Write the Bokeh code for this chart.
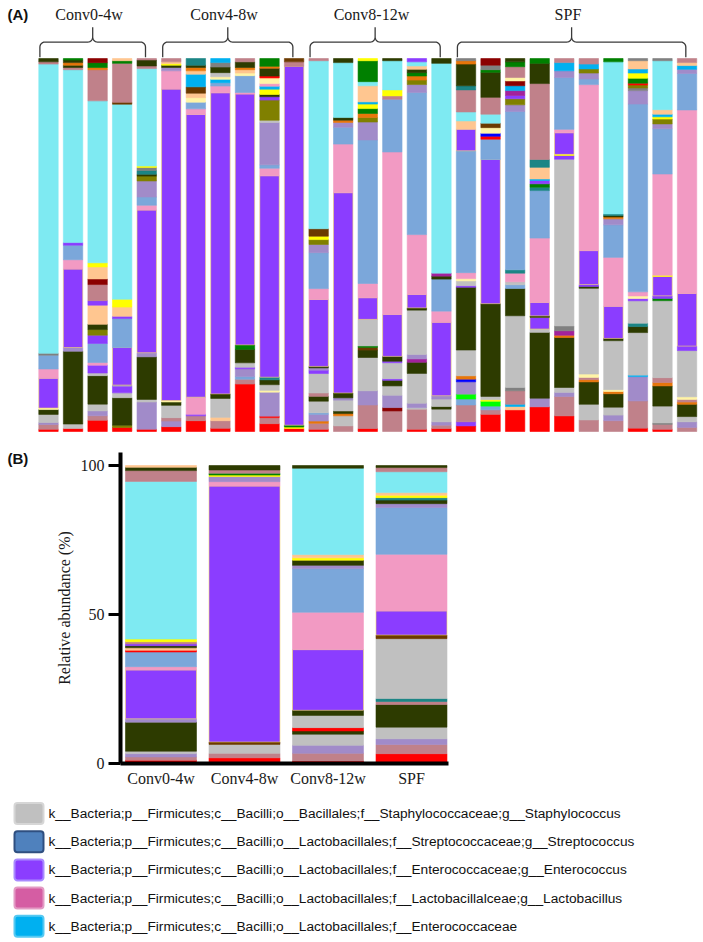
import numpy as np
from bokeh.plotting import figure
from bokeh.models import ColumnDataSource, Range1d, FixedTicker
from bokeh.embed import file_html
from bokeh.resources import INLINE
from bokeh.core.properties import value

# ---------------- colours of taxa ----------------
COLORS = dict(
    red="#FF0000", rosy="#C0818A", lav="#A18BC9", gray="#C0C0C0", dkgreen="#2D3B00",
    purple="#8B3DFF", pink="#F29AC3", steel="#7BA7DA", cyan="#7EEAF2", peach="#FFC690",
    yellow="#FFFF00", green="#008000", olive="#808000", orange="#E8760A", brown="#6B3A00",
    sky="#00B0F0", teal="#1B8585", darkred="#8B0000", lyellow="#FFF4A6", blue="#0000FF",
    lime="#00FF00", magenta="#A3229C", dgray="#808080",
)

# ---------------- panel A: per-sample relative abundance (%), bottom -> top ----------------
GROUPS = ["Conv0-4w", "Conv4-8w", "Conv8-12w", "SPF"]
GROUP_SIZES = [5, 6, 6, 10]

s01 = [("red",0.6),("rosy",1.3),("lav",0.5),("gray",2.2),("dkgreen",1.3),("lyellow",0.4),("purple",8.0),("pink",2.5),("steel",3.7),("dgray",0.5),("cyan",77.7),("rosy",0.6),("dkgreen",0.9)]
s02 = [("red",0.8),("gray",1.2),("dkgreen",19.5),("lav",1.0),("purple",21.0),("pink",2.5),("steel",3.9),("purple",0.7),("cyan",46.3),("rosy",0.6),("dkgreen",0.6),("orange",0.7),("dkgreen",0.7),("green",0.4)]
s03 = [("red",3.0),("rosy",1.2),("lav",1.3),("gray",1.8),("dkgreen",7.6),("gray",0.7),("purple",2.1),("pink",0.7),("steel",5.1),("purple",2.2),("olive",1.5),("dkgreen",1.4),("peach",5.1),("purple",1.2),("rosy",4.3),("darkred",1.5),("peach",3.2),("yellow",1.1),("cyan",43.2),("rosy",8.3),("orange",0.6),("green",1.3),("darkred",1.1)]
s04 = [("red",1.1),("olive",0.6),("dkgreen",7.4),("gray",1.3),("purple",1.8),("lav",0.3),("purple",10.1),("steel",7.8),("purple",0.6),("peach",2.5),("yellow",2.1),("cyan",52.5),("brown",0.5),("rosy",10.5),("green",0.7),("peach",0.6)]
s05 = [("red",0.6),("lav",7.3),("gray",0.7),("dkgreen",11.4),("lav",1.1),("purple",38.2),("pink",1.3),("steel",2.2),("lav",4.3),("olive",1.3),("dkgreen",0.5),("teal",1.0),("dgray",0.8),("yellow",0.4),("cyan",26.1),("rosy",0.7),("dkgreen",1.6),("rosy",0.4)]
s06 = [("red",1.3),("lav",1.5),("rosy",0.9),("gray",3.3),("dkgreen",0.9),("lyellow",0.4),("purple",83.4),("pink",4.9),("lav",0.9),("dkgreen",0.6),("yellow",0.4),("peach",0.5),("rosy",0.9)]
s07 = [("red",2.9),("rosy",1.3),("purple",0.4),("pink",4.6),("purple",75.8),("pink",1.5),("steel",1.8),("lyellow",1.2),("peach",1.2),("brown",1.7),("sky",3.4),("peach",0.9),("orange",0.9),("dkgreen",0.6),("teal",1.8)]
s08 = [("red",0.9),("rosy",2.0),("peach",0.9),("gray",5.1),("dkgreen",1.2),("purple",80.9),("pink",1.8),("steel",0.9),("sky",0.9),("lyellow",0.7),("gray",1.1),("dkgreen",1.5),("dgray",1.2),("sky",1.1)]
s09 = [("red",12.7),("rosy",1.3),("steel",0.7),("lav",2.1),("purple",0.4),("gray",1.2),("dkgreen",3.6),("green",1.2),("purple",67.2),("pink",0.4),("steel",4.5),("lyellow",0.7),("peach",0.9),("orange",0.6),("dkgreen",1.5),("rosy",0.9)]
s10 = [("red",2.1),("rosy",1.6),("red",0.4),("lav",6.4),("lyellow",0.5),("gray",1.5),("dkgreen",1.3),("teal",0.7),("purple",53.8),("pink",2.0),("steel",0.9),("lav",11.3),("gray",0.6),("olive",5.4),("purple",0.9),("dkgreen",0.6),("yellow",1.4),("sky",0.8),("pink",0.7),("lyellow",1.5),("red",0.5),("dkgreen",2.1),("orange",0.5),("green",2.1)]
s11 = [("red",0.8),("yellow",0.4),("green",0.5),("purple",96.2),("rosy",1.2),("brown",0.9)]
s12 = [("red",0.6),("rosy",1.6),("orange",0.6),("lav",1.8),("steel",0.4),("gray",3.1),("dkgreen",1.3),("rosy",0.9),("gray",5.2),("purple",0.9),("lav",0.6),("dkgreen",0.4),("purple",17.9),("pink",2.9),("steel",9.6),("lav",2.2),("olive",1.3),("yellow",0.9),("brown",2.0),("cyan",44.9),("rosy",0.6)]
s13 = [("rosy",1.5),("gray",2.7),("orange",0.6),("dkgreen",0.7),("gray",2.9),("lav",0.6),("dkgreen",1.3),("purple",53.6),("pink",13.0),("steel",4.5),("lav",1.3),("orange",0.6),("dkgreen",0.7),("cyan",14.7),("dkgreen",1.1)]
s14 = [("red",0.8),("rosy",6.3),("lav",3.8),("gray",8.9),("dkgreen",2.0),("brown",0.7),("green",0.4),("gray",7.1),("purple",5.8),("pink",3.8),("steel",38.4),("lav",4.8),("olive",1.2),("orange",1.1),("green",1.3),("yellow",1.2),("sky",0.6),("peach",4.3),("cyan",1.1),("green",5.6),("yellow",0.6)]
s15 = [("rosy",5.5),("darkred",0.9),("lav",3.3),("gray",2.5),("dkgreen",1.5),("purple",0.4),("gray",4.3),("purple",0.4),("dkgreen",1.3),("purple",11.2),("pink",43.5),("steel",14.1),("rosy",0.9),("yellow",1.6),("cyan",7.8),("dkgreen",0.6)]
s16 = [("red",0.6),("rosy",5.4),("gray",0.4),("lav",1.2),("gray",8.0),("dkgreen",3.0),("magenta",0.9),("lav",1.2),("gray",11.9),("dkgreen",0.6),("purple",3.6),("pink",16.1),("steel",38.2),("lav",2.1),("olive",1.2),("orange",1.1),("green",0.9),("dkgreen",0.9),("peach",0.9),("cyan",1.1),("purple",0.9)]
s17 = [("red",0.8),("rosy",0.9),("lav",0.9),("gray",3.4),("dkgreen",0.7),("gray",2.0),("lav",0.9),("purple",19.7),("pink",3.0),("steel",8.6),("dkgreen",0.8),("magenta",0.8),("cyan",56.3),("dkgreen",1.3)]
s18 = [("red",1.5),("purple",1.1),("rosy",4.5),("steel",1.6),("lime",1.3),("lav",3.3),("blue",0.7),("orange",0.9),("gray",6.9),("dkgreen",16.8),("purple",0.4),("gray",1.3),("lyellow",0.6),("pink",1.6),("steel",32.6),("purple",5.8),("peach",2.2),("cyan",2.4),("rosy",5.9),("teal",1.1),("dkgreen",5.8),("orange",0.9),("dgray",0.6)]
s19 = [("red",4.6),("rosy",1.2),("steel",1.0),("lime",1.3),("yellow",0.4),("gray",0.9),("dkgreen",24.8),("purple",38.6),("steel",5.4),("red",0.8),("blue",0.8),("lyellow",1.5),("brown",1.2),("cyan",2.4),("rosy",4.5),("dkgreen",6.7),("green",0.7),("dgray",1.2),("darkred",1.8)]
s20 = [("red",5.8),("peach",0.9),("sky",0.6),("rosy",3.6),("dgray",0.9),("gray",19.2),("dkgreen",7.3),("steel",1.0),("gray",0.8),("pink",2.3),("teal",0.9),("steel",42.4),("lav",1.8),("olive",1.6),("purple",0.9),("magenta",1.3),("sky",1.3),("darkred",1.3),("lyellow",0.9),("rosy",2.9),("green",1.3),("dkgreen",0.9)]
s21 = [("red",6.6),("lav",2.3),("dkgreen",17.6),("gray",0.9),("purple",3.1),("dkgreen",0.4),("purple",3.6),("pink",17.2),("steel",12.7),("teal",0.9),("green",0.9),("purple",0.9),("sky",0.4),("peach",3.1),("teal",2.1),("rosy",20.3),("dkgreen",5.4),("green",1.3)]
s22 = [("red",4.2),("rosy",5.2),("lav",1.1),("gray",1.3),("dkgreen",13.4),("orange",0.6),("magenta",1.2),("dgray",1.3),("gray",44.7),("purple",1.0),("yellow",0.3),("purple",5.8),("pink",0.9),("steel",13.9),("lav",1.8),("sky",2.2),("rosy",1.1)]
s23 = [("rosy",3.1),("gray",4.2),("dkgreen",6.0),("orange",0.6),("rosy",0.6),("lyellow",0.9),("gray",23.0),("dkgreen",0.5),("purple",0.5),("purple",9.1),("pink",44.5),("steel",1.5),("lav",1.6),("olive",1.1),("sky",1.3),("rosy",1.5)]
s24 = [("rosy",2.9),("lav",1.5),("gray",2.1),("dkgreen",3.6),("orange",0.6),("lyellow",0.5),("gray",13.1),("dkgreen",0.6),("purple",8.6),("pink",13.1),("steel",8.7),("lav",1.6),("orange",0.5),("dkgreen",0.4),("teal",0.4),("cyan",40.7),("green",0.9)]
s25 = [("red",0.9),("rosy",7.3),("lav",6.5),("sky",0.4),("gray",11.4),("dkgreen",1.6),("teal",0.9),("gray",6.0),("purple",0.6),("lyellow",0.7),("pink",1.1),("steel",50.3),("lav",3.6),("dgray",0.7),("olive",0.8),("red",0.5),("green",1.3),("yellow",1.4),("sky",1.1),("peach",2.2),("dgray",0.6)]
s26 = [("red",0.6),("rosy",1.3),("dgray",0.4),("gray",4.5),("dkgreen",5.4),("orange",0.9),("rosy",1.3),("gray",20.6),("green",0.6),("purple",0.7),("purple",5.2),("yellow",0.3),("pink",27.1),("steel",12.1),("lav",1.3),("olive",1.3),("yellow",0.6),("sky",0.7),("peach",1.2),("cyan",13.1),("dgray",0.6)]
s27 = [("rosy",1.1),("lav",1.5),("gray",1.4),("dkgreen",3.3),("orange",0.6),("rosy",0.7),("lyellow",0.7),("gray",12.4),("purple",1.2),("purple",14.1),("pink",49.2),("steel",9.8),("lav",1.1),("sky",1.0),("peach",0.8),("rosy",1.1)]

SAMPLES = [s01, s02, s03, s04, s05, s06, s07, s08, s09, s10, s11, s12, s13, s14,
           s15, s16, s17, s18, s19, s20, s21, s22, s23, s24, s25, s26, s27]

# ---------------- panel B: group means (%), bottom -> top ----------------
g_conv04 = [("red",1.1),("rosy",1.1),("lav",1.1),("gray",0.8),("dkgreen",9.7),("lav",1.1),("purple",16.3),("pink",1.1),("steel",4.9),("red",0.6),("peach",0.8),("dkgreen",0.7),("purple",0.6),("rosy",0.7),("yellow",0.9),("cyan",52.6),("rosy",3.6),("dkgreen",1.1),("peach",0.6)]
g_conv48 = [("red",1.9),("rosy",1.5),("gray",3.0),("brown",0.8),("purple",85.7),("pink",1.5),("lav",1.7),("yellow",0.5),("green",0.6),("rosy",1.1),("dkgreen",1.5)]
g_conv812 = [("red",0.8),("rosy",2.6),("lav",2.7),("gray",3.7),("dkgreen",1.1),("red",1.1),("gray",4.1),("dkgreen",1.7),("purple",20.3),("pink",12.5),("steel",14.6),("lav",1.1),("dkgreen",1.7),("yellow",0.8),("peach",1.1),("cyan",28.9),("dkgreen",0.9)]
g_spf = [("red",3.3),("rosy",3.1),("lav",1.9),("gray",3.9),("dkgreen",7.6),("rosy",1.0),("teal",1.0),("gray",20.1),("brown",1.2),("purple",8.1),("pink",19.0),("steel",15.7),("lav",1.3),("dkgreen",1.2),("teal",0.8),("yellow",0.8),("peach",0.9),("cyan",7.0),("rosy",1.4),("dkgreen",0.7)]
GROUP_BARS = [g_conv04, g_conv48, g_conv812, g_spf]

Y_TICKS = [0, 50, 100]
Y_LABEL = "Relative abundance (%)"

# ---------------- legend ----------------
LEGEND_LABELS = [
    "k__Bacteria;p__Firmicutes;c__Bacilli;o__Bacillales;f__Staphylococcaceae;g__Staphylococcus",
    "k__Bacteria;p__Firmicutes;c__Bacilli;o__Lactobacillales;f__Streptococcaceae;g__Streptococcus",
    "k__Bacteria;p__Firmicutes;c__Bacilli;o__Lactobacillales;f__Enterococcaceae;g__Enterococcus",
    "k__Bacteria;p__Firmicutes;c__Bacilli;o__Lactobacillales;f__Lactobacillalceae;g__Lactobacillus",
    "k__Bacteria;p__Firmicutes;c__Bacilli;o__Lactobacillales;f__Enterococcaceae",
]
LEGEND_FILLS = ["#C0C0C0", "#4F81BD", "#8B3DFF", "#D55DA3", "#00B0F0"]
LEGEND_EDGES = ["#D6D6D6", "#2F4F80", "#A98BFF", "#E39BC4", "#55C9F2"]

SERIF = "Liberation Serif"
SANS = "Liberation Sans"


def stacked(seglists):
    d = dict(x=[], bottom=[], top=[], fill=[], line=[])
    for xc, segs in enumerate(seglists):
        total = sum(v for _, v in segs)
        acc = 0.0
        for key, v in segs:
            h = v / total * 100.0
            d["x"].append(xc)
            d["bottom"].append(acc)
            d["top"].append(acc + h)
            d["fill"].append(COLORS[key])
            d["line"].append("#F2D36B" if (key == "purple" and h >= 3) else COLORS[key])
            acc += h
    return ColumnDataSource(d)


W = 703

# =============== Panel A ===============
pA = figure(width=W, height=440, x_range=Range1d(-1.954, 26.67), y_range=Range1d(-2.41, 115.55),
            x_axis_location=None, y_axis_location=None, min_border=0,
            output_backend="svg", toolbar_location=None)
pA.grid.grid_line_color = None
pA.outline_line_color = None
pA.vbar(x="x", bottom="bottom", top="top", width=0.79, fill_color="fill",
        line_color="line", line_width=0.6, source=stacked(SAMPLES))

# braces and group labels
xs, ys, lx = [], [], []
start = 0
rx, ry = 0.2, 1.34
y_tip, y_h, y_peak = 100.35, 104.4, 108.4
for n in GROUP_SIZES:
    x0 = start - 0.35
    x1 = start + n - 1 - 0.05
    xm = (x0 + x1) / 2
    px, py = [x0], [y_tip]
    t = np.linspace(np.pi, np.pi / 2, 8)
    px += list(x0 + rx + rx * np.cos(t)); py += list(y_h - ry + ry * np.sin(t))
    t = np.linspace(1.5 * np.pi, 2 * np.pi, 8)
    px += list(xm - rx + rx * np.cos(t)); py += list(y_h + ry + ry * np.sin(t))
    px += [xm, xm]; py += [y_peak, y_h + ry]
    t = np.linspace(np.pi, 1.5 * np.pi, 8)
    px += list(xm + rx + rx * np.cos(t)); py += list(y_h + ry + ry * np.sin(t))
    t = np.linspace(np.pi / 2, 0, 8)
    px += list(x1 - rx + rx * np.cos(t)); py += list(y_h - ry + ry * np.sin(t))
    px += [x1]; py += [y_tip]
    xs.append(px); ys.append(py); lx.append(xm - 0.15)
    start += n
pA.multi_line(xs=xs, ys=ys, line_color="#3A3A3A", line_width=1.3)
pA.text(x=lx, y=[111.9] * len(lx), text=GROUPS, text_font=value(SERIF), text_font_size="16px",
        text_align="center", text_baseline="middle", text_color="#1A1A1A")
pA.text(x=[-1.67], y=[111.8], text=["(A)"], text_font=value(SANS), text_font_style="bold",
        text_font_size="15px", text_align="left", text_baseline="middle", text_color="#111111")

# =============== Panel B ===============
# frame covers the whole figure; axes are pinned inside it with fixed_location
pB = figure(width=W, height=350, x_range=Range1d(-1.922, 6.497), y_range=Range1d(-9.06, 108.39),
            min_border=0, output_backend="svg", toolbar_location=None)
pB.grid.grid_line_color = None
pB.outline_line_color = None
pB.vbar(x="x", bottom="bottom", top="top", width=0.85, fill_color="fill",
        line_color="line", line_width=0.6, source=stacked(GROUP_BARS))

X_LEFT, X_RIGHT, Y_TOP = -0.485, 3.443, 104.36
pB.xaxis.fixed_location = 0
pB.xaxis.bounds = (X_LEFT, X_RIGHT)
pB.yaxis.fixed_location = X_LEFT
pB.yaxis.bounds = (0, Y_TOP)
pB.xaxis.ticker = FixedTicker(ticks=list(range(len(GROUPS))))
pB.xaxis.major_label_overrides = {i: g for i, g in enumerate(GROUPS)}
pB.yaxis.ticker = FixedTicker(ticks=Y_TICKS)
for ax in (pB.xaxis[0], pB.yaxis[0]):
    ax.axis_line_width = 4
    ax.axis_line_color = "black"
    ax.minor_tick_line_color = None
    ax.major_label_text_font = SERIF
    ax.major_label_text_font_size = "16px"
    ax.major_label_text_color = "#1A1A1A"
pB.xaxis.major_tick_line_color = None
pB.xaxis.major_tick_out = 0
pB.xaxis.major_tick_in = 0
pB.xaxis.major_label_standoff = 6
pB.yaxis.major_tick_out = 12
pB.yaxis.major_tick_in = 0
pB.yaxis.major_tick_line_width = 3
pB.yaxis.major_label_standoff = 4
pB.yaxis.axis_label = Y_LABEL
pB.yaxis.axis_label_text_font = SERIF
pB.yaxis.axis_label_text_font_style = "normal"
pB.yaxis.axis_label_text_font_size = "16px"
pB.yaxis.axis_label_text_color = "#1A1A1A"
pB.yaxis.axis_label_standoff = 5
pB.text(x=[-1.838], y=[102.3], text=["(B)"], text_font=value(SANS), text_font_style="bold",
        text_font_size="15px", text_align="left", text_baseline="middle", text_color="#111111")

# =============== Legend ===============
LH = 150
pL = figure(width=W, height=LH, x_range=Range1d(0, W), y_range=Range1d(LH, 0),
            x_axis_location=None, y_axis_location=None, min_border=0,
            output_backend="svg", toolbar_location=None)
pL.grid.grid_line_color = None
pL.outline_line_color = None
rows = [23 + 28.2 * i for i in range(len(LEGEND_LABELS))]
pL.quad(left=[14] * len(rows), right=[43] * len(rows),
        top=[r - 10.5 for r in rows], bottom=[r + 10.5 for r in rows],
        fill_color=LEGEND_FILLS, line_color=LEGEND_EDGES, line_width=2, border_radius=3)
pL.text(x=[48] * len(rows), y=rows, text=LEGEND_LABELS, text_font=value(SANS),
        text_font_size="13.7px", text_align="left", text_baseline="middle", text_color="#111111")

open("out.html", "w").write(file_html([pA, pB, pL], INLINE))
